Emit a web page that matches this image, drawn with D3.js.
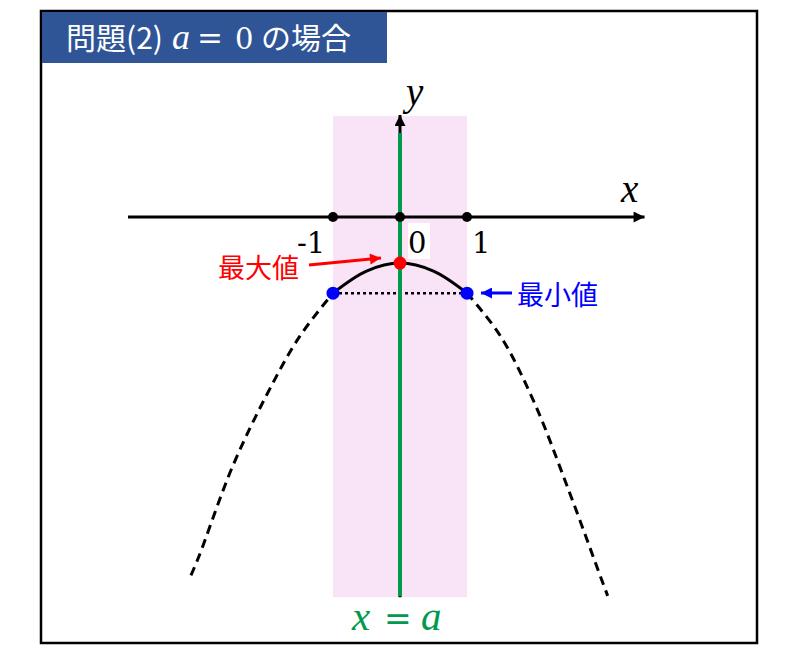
<!DOCTYPE html>
<html>
<head>
<meta charset="utf-8">
<script src="https://cdn.jsdelivr.net/npm/d3@7"></script>
<style>
  body { margin: 0; background: #fff; }
  svg { display: block; }
</style>
</head>
<body>
<script>
// values (data units)
const tickValues = [-1, 0, 1];
const tickLabels = ["-1", "0", "1"];
const bandRange = [-1, 1];           // shaded interval
const axisX = [-4.06, 3.65];         // x axis extent
const axisY = [-11.88, 3.19];        // y axis extent

// dashed left branch, solid middle part, dashed right branch
const leftX = [-3.12, -3, -2.5, -2, -1.5, -1];
const leftY = [-11.2, -10.6, -7.8, -5.6, -3.74, -2.38];
const midX = [-1, -0.5, 0, 0.5, 1];
const midY = [-2.38, -1.69, -1.44, -1.69, -2.38];
const rightX = [1, 1.5, 2, 2.5, 3, 3.1];
const rightY = [-2.38, -3.72, -5.78, -8.44, -11.28, -11.84];

const maxPoint = [0, -1.44];
const minPoints = [[-1, -2.38], [1, -2.38]];

const width = 800, height = 660;
const mathFont = "'Liberation Serif', 'DejaVu Serif', serif";
const numFont = "'DejaVu Serif', serif";
const cjkFont = "'Noto Sans CJK JP', 'Noto Sans', sans-serif";
const green = "#00994d";

const x = d3.scaleLinear().domain([-1, 1]).range([333, 467]);
const y = d3.scaleLinear().domain([0, -1]).range([217, 249]);

const svg = d3.select("body").append("svg")
  .attr("width", width)
  .attr("height", height);

const defs = svg.append("defs");
function arrowMarker(id, color, w, h) {
  defs.append("marker")
    .attr("id", id)
    .attr("viewBox", "0 0 10 10")
    .attr("refX", 10).attr("refY", 5)
    .attr("markerUnits", "userSpaceOnUse")
    .attr("markerWidth", w).attr("markerHeight", h)
    .attr("orient", "auto")
    .append("path")
    .attr("d", "M0,0 L10,5 L0,10 Z")
    .attr("fill", color);
}
arrowMarker("arrBlack", "#000", 13, 11);
arrowMarker("arrRed", "#ff0000", 13, 11);
arrowMarker("arrBlue", "#0000ff", 13, 11);

// outer frame
svg.append("rect")
  .attr("x", 41).attr("y", 11)
  .attr("width", 716).attr("height", 632)
  .attr("fill", "none")
  .attr("stroke", "#000")
  .attr("stroke-width", 2.5);

// title box
svg.append("rect")
  .attr("x", 42).attr("y", 12)
  .attr("width", 345).attr("height", 51)
  .attr("fill", "#2f5597");

const title = svg.append("g").attr("fill", "#fff").attr("font-size", 30);
title.append("text").attr("x", 66).attr("y", 49).attr("font-family", cjkFont).text("問題(2)");
title.append("text").attr("x", 172).attr("y", 49).attr("font-family", mathFont).attr("font-style", "italic").attr("font-size", 36).text("a");
title.append("text").attr("x", 197).attr("y", 49).attr("font-family", numFont).attr("font-size", 31).text("=");
title.append("text").attr("x", 235).attr("y", 49).attr("font-family", numFont).attr("font-size", 29).text("0");
title.append("text").attr("x", 261).attr("y", 49).attr("font-family", cjkFont).text("の場合");

// shaded band
svg.append("rect")
  .attr("x", x(bandRange[0]))
  .attr("y", y(axisY[1]) + 1)
  .attr("width", x(bandRange[1]) - x(bandRange[0]))
  .attr("height", y(axisY[0]) - y(axisY[1]) - 1)
  .attr("fill", "#f9e4f7");

// x axis
svg.append("line")
  .attr("x1", x(axisX[0])).attr("y1", y(0))
  .attr("x2", x(axisX[1])).attr("y2", y(0))
  .attr("stroke", "#000").attr("stroke-width", 3)
  .attr("marker-end", "url(#arrBlack)");

// y axis
svg.append("line")
  .attr("x1", x(0)).attr("y1", y(axisY[0]))
  .attr("x2", x(0)).attr("y2", y(axisY[1]))
  .attr("stroke", "#000").attr("stroke-width", 3)
  .attr("marker-end", "url(#arrBlack)");

// axis labels
svg.append("text")
  .attr("x", 621).attr("y", 202)
  .attr("font-family", mathFont).attr("font-style", "italic")
  .attr("font-size", 39).text("x");
svg.append("text")
  .attr("x", 406).attr("y", 105)
  .attr("font-family", mathFont).attr("font-style", "italic")
  .attr("font-size", 39).text("y");

// curve
const line = d3.line()
  .x(d => x(d[0]))
  .y(d => y(d[1]))
  .curve(d3.curveCatmullRom);

const zipPts = (xs, ys) => xs.map((v, i) => [v, ys[i]]);

svg.append("path")
  .attr("d", line(zipPts(leftX, leftY)))
  .attr("fill", "none").attr("stroke", "#000")
  .attr("stroke-width", 3).attr("stroke-dasharray", "9,6");
svg.append("path")
  .attr("d", line(zipPts(rightX, rightY)))
  .attr("fill", "none").attr("stroke", "#000")
  .attr("stroke-width", 3).attr("stroke-dasharray", "9,6");
svg.append("path")
  .attr("d", line(zipPts(midX, midY)))
  .attr("fill", "none").attr("stroke", "#000")
  .attr("stroke-width", 3);

// dotted line between the minimum points
svg.append("line")
  .attr("x1", x(minPoints[0][0])).attr("y1", y(minPoints[0][1]))
  .attr("x2", x(minPoints[1][0])).attr("y2", y(minPoints[1][1]))
  .attr("stroke", "#000").attr("stroke-width", 2.5)
  .attr("stroke-dasharray", "3,3");

// x = a line, over the y axis and the curve
svg.append("line")
  .attr("x1", x(0)).attr("y1", y(axisY[0]) - 1)
  .attr("x2", x(0)).attr("y2", 133)
  .attr("stroke", green).attr("stroke-width", 4);

// tick dots
svg.selectAll("circle.tick")
  .data(tickValues)
  .enter().append("circle")
  .attr("class", "tick")
  .attr("cx", d => x(d)).attr("cy", y(0))
  .attr("r", 5).attr("fill", "#000");

// tick labels
const labelX = [297, 408, 472];
svg.append("rect")
  .attr("x", 408).attr("y", 223)
  .attr("width", 22).attr("height", 36)
  .attr("fill", "#fff");
svg.selectAll("text.tick")
  .data(tickLabels)
  .enter().append("text")
  .attr("class", "tick")
  .attr("x", (d, i) => labelX[i]).attr("y", 253)
  .attr("font-family", numFont)
  .attr("font-size", 29)
  .text(d => d);

// max / min points
svg.append("circle")
  .attr("cx", x(maxPoint[0])).attr("cy", y(maxPoint[1]))
  .attr("r", 6.5).attr("fill", "#ff0000");
svg.selectAll("circle.min")
  .data(minPoints)
  .enter().append("circle")
  .attr("class", "min")
  .attr("cx", d => x(d[0])).attr("cy", d => y(d[1]))
  .attr("r", 6.5).attr("fill", "#0000ff");

// annotations
svg.append("line")
  .attr("x1", 309).attr("y1", 265)
  .attr("x2", 381).attr("y2", 258)
  .attr("stroke", "#ff0000").attr("stroke-width", 3)
  .attr("marker-end", "url(#arrRed)");
svg.append("text")
  .attr("x", 218).attr("y", 278)
  .attr("font-family", cjkFont).attr("font-size", 27)
  .attr("fill", "#ff0000").text("最大値");

svg.append("line")
  .attr("x1", 512).attr("y1", 293)
  .attr("x2", 481).attr("y2", 293)
  .attr("stroke", "#0000ff").attr("stroke-width", 3)
  .attr("marker-end", "url(#arrBlue)");
svg.append("text")
  .attr("x", 517).attr("y", 305)
  .attr("font-family", cjkFont).attr("font-size", 27)
  .attr("fill", "#0000ff").text("最小値");

// x = a label
const eq = svg.append("g").attr("fill", green);
eq.append("text").attr("x", 352).attr("y", 630).attr("font-family", mathFont).attr("font-style", "italic").attr("font-size", 41).text("x");
eq.append("text").attr("x", 384).attr("y", 630).attr("font-family", numFont).attr("font-size", 33).text("=");
eq.append("text").attr("x", 421).attr("y", 630).attr("font-family", mathFont).attr("font-style", "italic").attr("font-size", 41).text("a");
</script>
</body>
</html>
